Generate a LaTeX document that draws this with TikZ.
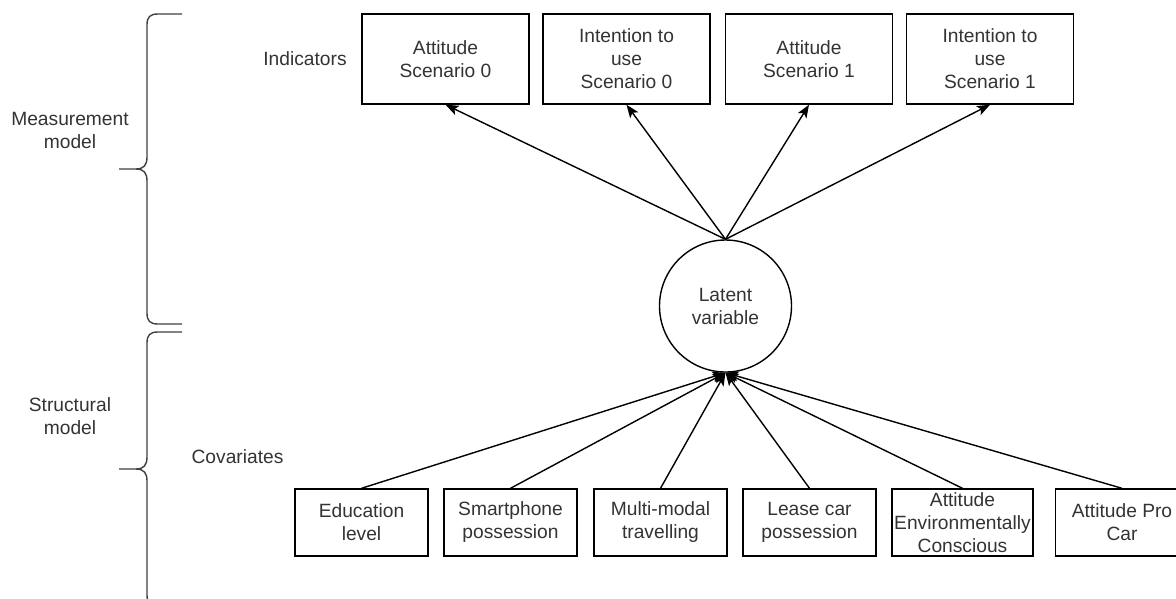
\documentclass[tikz,border=0pt]{standalone}
\usepackage{fontspec}
\setmainfont{Liberation Sans}
\usetikzlibrary{arrows.meta}
\begin{document}
\begin{tikzpicture}[x=1pt,y=-1pt,
  txt/.style={font=\fontsize{19.2}{23}\selectfont, text=black!80, align=center},
  indbox/.style={draw, line width=1.4pt, txt, minimum width=167pt, minimum height=90pt, inner sep=0pt},
  covbox/.style={draw, line width=1.4pt, txt, minimum width=133pt, minimum height=67pt, inner sep=0pt},
  latent/.style={draw, circle, line width=1.4pt, txt, minimum size=132pt, inner sep=0pt},
  link/.style={line width=1.4pt, -{Stealth[length=13pt,width=10pt,inset=3pt]}},
  brace/.style={line width=1.4pt, draw=black!75},
]
\useasboundingbox (0,0) rectangle (1176,598);
\clip (0,0) rectangle (1176,598);

% indicators
\node[indbox] (a0) at (445.5,59) {Attitude\\Scenario 0};
\node[indbox] (i0) at (626.5,59) {Intention to\\use\\Scenario 0};
\node[indbox] (a1) at (809,59) {Attitude\\Scenario 1};
\node[indbox] (i1) at (990,59) {Intention to\\use\\Scenario 1};

% latent variable
\node[latent] (lat) at (725.5,306) {Latent\\variable};

% covariates
\node[covbox] (edu) at (361.5,522.5) {Education\\level};
\node[covbox] (smart) at (510.5,522.5) {Smartphone\\possession};
\node[covbox] (multi) at (660.5,522.5) {Multi-modal\\travelling};
\node[covbox] (lease) at (809.5,522.5) {Lease car\\possession};
\node[covbox, minimum width=141pt] (env) at (962.5,522.5) {Attitude\\Environmentally\\Conscious};
\node[covbox] (procar) at (1122,522.5) {Attitude Pro\\Car};

% side labels
\node[txt] (meas) at (70,130) {Measurement\\model};
\node[txt] (indlab) at (305,59) {Indicators};
\node[txt] (struct) at (70,416) {Structural\\model};
\node[txt] (covlab) at (237.5,457) {Covariates};

% braces
\draw[brace] (182,14) -- (158,14) .. controls (150,14) and (147,17) .. (147,25)
  -- (147,157) .. controls (147,165) and (144,169) .. (136,169) -- (119,169);
\draw[brace] (136,169) .. controls (144,169) and (147,173) .. (147,181)
  -- (147,313) .. controls (147,321) and (150,324) .. (158,324) -- (182,324);
\draw[brace] (182,332) -- (158,332) .. controls (150,332) and (147,335) .. (147,343)
  -- (147,457) .. controls (147,465) and (144,469) .. (136,469) -- (119,469);
\draw[brace] (136,469) .. controls (144,469) and (147,473) .. (147,481)
  -- (147,595) .. controls (147,603) and (150,606) .. (158,606) -- (182,606);

% connectors
\foreach \b in {a0,i0,a1,i1}
  \draw[link] (lat.north) -- (\b.south);
\foreach \c in {edu,smart,multi,lease,env,procar}
  \draw[link] (\c.north) -- (lat.south);
\end{tikzpicture}
\end{document}
